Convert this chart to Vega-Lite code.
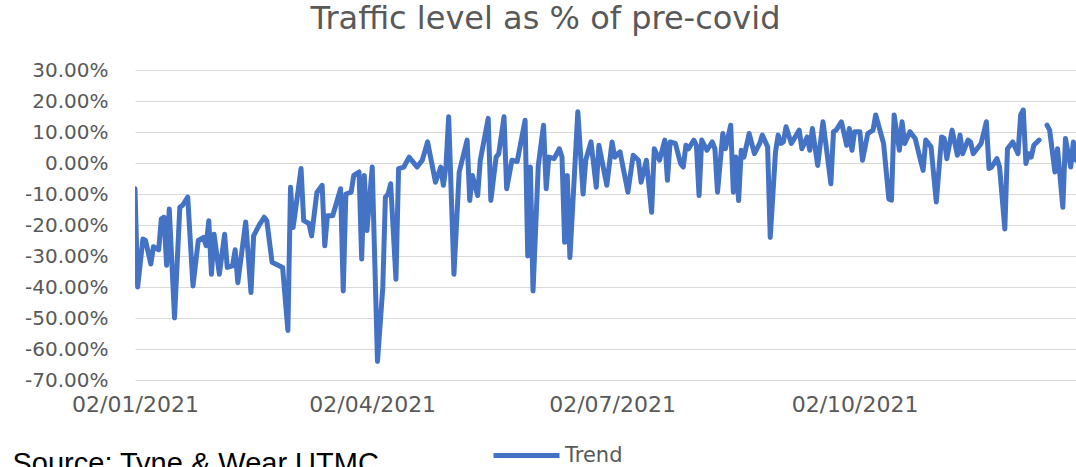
{
  "$schema": "https://vega.github.io/schema/vega-lite/v6.json",
  "width": 941,
  "height": 310,
  "autosize": {"type": "none"},
  "padding": {"left": 135, "top": 70, "right": 0, "bottom": 87},
  "background": "white",
  "title": {
    "text": "Traffic level as % of pre-covid",
    "font": "DejaVu Sans",
    "fontSize": 32,
    "fontWeight": "normal",
    "color": "#595959",
    "anchor": "middle",
    "frame": "group",
    "dx": -60,
    "baseline": "alphabetic",
    "offset": -1
  },
  "data": {
    "values": [
      {"date": "2021-01-02", "value": -8.3},
      {"date": "2021-01-03", "value": -40},
      {"date": "2021-01-05", "value": -24.5},
      {"date": "2021-01-06", "value": -25},
      {"date": "2021-01-08", "value": -32.6},
      {"date": "2021-01-09", "value": -27},
      {"date": "2021-01-11", "value": -28},
      {"date": "2021-01-12", "value": -18},
      {"date": "2021-01-13", "value": -17.5},
      {"date": "2021-01-14", "value": -33},
      {"date": "2021-01-15", "value": -14.8},
      {"date": "2021-01-17", "value": -50},
      {"date": "2021-01-19", "value": -14.3},
      {"date": "2021-01-20", "value": -13.7},
      {"date": "2021-01-22", "value": -11},
      {"date": "2021-01-24", "value": -39.7},
      {"date": "2021-01-26", "value": -25},
      {"date": "2021-01-28", "value": -24},
      {"date": "2021-01-29", "value": -26.7},
      {"date": "2021-01-30", "value": -18.6},
      {"date": "2021-01-31", "value": -35.9},
      {"date": "2021-02-01", "value": -23},
      {"date": "2021-02-03", "value": -35.9},
      {"date": "2021-02-05", "value": -23},
      {"date": "2021-02-06", "value": -33.7},
      {"date": "2021-02-08", "value": -33.2},
      {"date": "2021-02-09", "value": -28},
      {"date": "2021-02-10", "value": -38.6},
      {"date": "2021-02-13", "value": -19},
      {"date": "2021-02-15", "value": -41.8},
      {"date": "2021-02-16", "value": -23.5},
      {"date": "2021-02-18", "value": -20.2},
      {"date": "2021-02-20", "value": -17.5},
      {"date": "2021-02-21", "value": -18.6},
      {"date": "2021-02-23", "value": -32},
      {"date": "2021-02-27", "value": -33.7},
      {"date": "2021-03-01", "value": -54},
      {"date": "2021-03-02", "value": -7.8},
      {"date": "2021-03-03", "value": -20.8},
      {"date": "2021-03-06", "value": -1.8},
      {"date": "2021-03-07", "value": -18.6},
      {"date": "2021-03-09", "value": -19.5},
      {"date": "2021-03-10", "value": -23.5},
      {"date": "2021-03-12", "value": -9.5},
      {"date": "2021-03-14", "value": -7.2},
      {"date": "2021-03-15", "value": -26.7},
      {"date": "2021-03-16", "value": -17},
      {"date": "2021-03-18", "value": -17},
      {"date": "2021-03-21", "value": -8.3},
      {"date": "2021-03-22", "value": -41.3},
      {"date": "2021-03-23", "value": -10},
      {"date": "2021-03-25", "value": -9.4},
      {"date": "2021-03-26", "value": -4},
      {"date": "2021-03-28", "value": -2.9},
      {"date": "2021-03-29", "value": -31},
      {"date": "2021-03-30", "value": -4},
      {"date": "2021-03-31", "value": -21.8},
      {"date": "2021-04-02", "value": -1.3},
      {"date": "2021-04-04", "value": -64},
      {"date": "2021-04-06", "value": -40.3},
      {"date": "2021-04-07", "value": -11},
      {"date": "2021-04-08", "value": -10},
      {"date": "2021-04-09", "value": -6.7},
      {"date": "2021-04-11", "value": -37.5},
      {"date": "2021-04-12", "value": -1.8},
      {"date": "2021-04-14", "value": -1.3},
      {"date": "2021-04-16", "value": 1.9},
      {"date": "2021-04-19", "value": -1.3},
      {"date": "2021-04-21", "value": 0.9},
      {"date": "2021-04-23", "value": 6.8},
      {"date": "2021-04-26", "value": -6.2},
      {"date": "2021-04-28", "value": -1.3},
      {"date": "2021-04-29", "value": -7.2},
      {"date": "2021-04-30", "value": -0.8},
      {"date": "2021-05-01", "value": 14.9},
      {"date": "2021-05-03", "value": -35.9},
      {"date": "2021-05-05", "value": -2.9},
      {"date": "2021-05-08", "value": 7.4},
      {"date": "2021-05-09", "value": -12.1},
      {"date": "2021-05-10", "value": -4},
      {"date": "2021-05-12", "value": -10.5},
      {"date": "2021-05-13", "value": 0.9},
      {"date": "2021-05-16", "value": 14.4},
      {"date": "2021-05-17", "value": -12.1},
      {"date": "2021-05-19", "value": 1.9},
      {"date": "2021-05-20", "value": 3},
      {"date": "2021-05-22", "value": 14.9},
      {"date": "2021-05-23", "value": -8.3},
      {"date": "2021-05-25", "value": 0.9},
      {"date": "2021-05-27", "value": 0.5},
      {"date": "2021-05-30", "value": 13.8},
      {"date": "2021-05-31", "value": -30},
      {"date": "2021-06-01", "value": -1.3},
      {"date": "2021-06-02", "value": -41.3},
      {"date": "2021-06-04", "value": -0.8},
      {"date": "2021-06-06", "value": 12.2},
      {"date": "2021-06-07", "value": -8.3},
      {"date": "2021-06-08", "value": 1.9},
      {"date": "2021-06-10", "value": 1.4},
      {"date": "2021-06-12", "value": 4.6},
      {"date": "2021-06-13", "value": 1.9},
      {"date": "2021-06-14", "value": -25.6},
      {"date": "2021-06-15", "value": -4},
      {"date": "2021-06-16", "value": -30.5},
      {"date": "2021-06-19", "value": 16.5},
      {"date": "2021-06-21", "value": -10},
      {"date": "2021-06-22", "value": 0.9},
      {"date": "2021-06-24", "value": 6.8},
      {"date": "2021-06-26", "value": -7.8},
      {"date": "2021-06-27", "value": 5.7},
      {"date": "2021-06-30", "value": -7.2},
      {"date": "2021-07-02", "value": 6.8},
      {"date": "2021-07-03", "value": 1.9},
      {"date": "2021-07-05", "value": 3.6},
      {"date": "2021-07-08", "value": -9.4},
      {"date": "2021-07-10", "value": 2.5},
      {"date": "2021-07-12", "value": 0.9},
      {"date": "2021-07-13", "value": -6.2},
      {"date": "2021-07-15", "value": 0.9},
      {"date": "2021-07-17", "value": -15.9},
      {"date": "2021-07-18", "value": 4.6},
      {"date": "2021-07-20", "value": 0.9},
      {"date": "2021-07-22", "value": 7.4},
      {"date": "2021-07-23", "value": -5.6},
      {"date": "2021-07-24", "value": 6.8},
      {"date": "2021-07-26", "value": 6.3},
      {"date": "2021-07-28", "value": -0.2},
      {"date": "2021-07-29", "value": -1.3},
      {"date": "2021-07-30", "value": 5.7},
      {"date": "2021-07-31", "value": 4.6},
      {"date": "2021-08-02", "value": 7.4},
      {"date": "2021-08-03", "value": 5.7},
      {"date": "2021-08-04", "value": -10.5},
      {"date": "2021-08-05", "value": 7.4},
      {"date": "2021-08-07", "value": 4.1},
      {"date": "2021-08-09", "value": 6.8},
      {"date": "2021-08-10", "value": 4.6},
      {"date": "2021-08-11", "value": -9.4},
      {"date": "2021-08-13", "value": 9.5},
      {"date": "2021-08-14", "value": 4.6},
      {"date": "2021-08-16", "value": 12.2},
      {"date": "2021-08-17", "value": -9.4},
      {"date": "2021-08-18", "value": 1.9},
      {"date": "2021-08-19", "value": -12.1},
      {"date": "2021-08-20", "value": 4.1},
      {"date": "2021-08-21", "value": 1.9},
      {"date": "2021-08-23", "value": 9.5},
      {"date": "2021-08-25", "value": 3},
      {"date": "2021-08-27", "value": 6.3},
      {"date": "2021-08-28", "value": 9},
      {"date": "2021-08-30", "value": 5.2},
      {"date": "2021-08-31", "value": -24},
      {"date": "2021-09-02", "value": 3.6},
      {"date": "2021-09-03", "value": 9},
      {"date": "2021-09-04", "value": 6.3},
      {"date": "2021-09-05", "value": 6.8},
      {"date": "2021-09-06", "value": 11.7},
      {"date": "2021-09-08", "value": 6.3},
      {"date": "2021-09-11", "value": 10.6},
      {"date": "2021-09-12", "value": 4.6},
      {"date": "2021-09-14", "value": 8.4},
      {"date": "2021-09-15", "value": 4.1},
      {"date": "2021-09-16", "value": 11.1},
      {"date": "2021-09-18", "value": -0.8},
      {"date": "2021-09-20", "value": 13.3},
      {"date": "2021-09-21", "value": 6.8},
      {"date": "2021-09-23", "value": -6.7},
      {"date": "2021-09-24", "value": 10.1},
      {"date": "2021-09-25", "value": 10.6},
      {"date": "2021-09-27", "value": 13.3},
      {"date": "2021-09-29", "value": 5.7},
      {"date": "2021-09-30", "value": 11.1},
      {"date": "2021-10-01", "value": 4.1},
      {"date": "2021-10-02", "value": 10.1},
      {"date": "2021-10-04", "value": 10.1},
      {"date": "2021-10-05", "value": 0.9},
      {"date": "2021-10-07", "value": 9.5},
      {"date": "2021-10-09", "value": 10.6},
      {"date": "2021-10-10", "value": 15.5},
      {"date": "2021-10-13", "value": 6.3},
      {"date": "2021-10-15", "value": -11.6},
      {"date": "2021-10-16", "value": -12},
      {"date": "2021-10-17", "value": 15.5},
      {"date": "2021-10-19", "value": 4.1},
      {"date": "2021-10-20", "value": 13.3},
      {"date": "2021-10-21", "value": 6.3},
      {"date": "2021-10-23", "value": 10.1},
      {"date": "2021-10-25", "value": 7.9},
      {"date": "2021-10-27", "value": 0.9},
      {"date": "2021-10-28", "value": -2.4},
      {"date": "2021-10-29", "value": 7.4},
      {"date": "2021-10-31", "value": 5.2},
      {"date": "2021-11-02", "value": -12.6},
      {"date": "2021-11-04", "value": 8.4},
      {"date": "2021-11-05", "value": 7.9},
      {"date": "2021-11-06", "value": 1.4},
      {"date": "2021-11-08", "value": 10.6},
      {"date": "2021-11-10", "value": 2.5},
      {"date": "2021-11-11", "value": 9},
      {"date": "2021-11-12", "value": 3},
      {"date": "2021-11-14", "value": 7.4},
      {"date": "2021-11-15", "value": 6.8},
      {"date": "2021-11-16", "value": 3},
      {"date": "2021-11-19", "value": 6.3},
      {"date": "2021-11-21", "value": 13.3},
      {"date": "2021-11-22", "value": -1.8},
      {"date": "2021-11-23", "value": -1.3},
      {"date": "2021-11-25", "value": 1.4},
      {"date": "2021-11-26", "value": -1.3},
      {"date": "2021-11-28", "value": -21.3},
      {"date": "2021-11-29", "value": 4.6},
      {"date": "2021-12-01", "value": 6.8},
      {"date": "2021-12-03", "value": 3},
      {"date": "2021-12-04", "value": 15.5},
      {"date": "2021-12-05", "value": 17.1},
      {"date": "2021-12-06", "value": -0.2},
      {"date": "2021-12-07", "value": 3},
      {"date": "2021-12-08", "value": 1.9},
      {"date": "2021-12-09", "value": 5.7},
      {"date": "2021-12-11", "value": 7.4},
      {"date": "2021-12-12", "value": null},
      {"date": "2021-12-14", "value": 12.2},
      {"date": "2021-12-15", "value": 10.6},
      {"date": "2021-12-17", "value": -2.9},
      {"date": "2021-12-18", "value": 4.6},
      {"date": "2021-12-20", "value": -14.3},
      {"date": "2021-12-21", "value": 7.9},
      {"date": "2021-12-23", "value": -1.3},
      {"date": "2021-12-24", "value": 6.8},
      {"date": "2021-12-25", "value": 0.9}
    ]
  },
  "mark": {
    "type": "line",
    "strokeWidth": 5,
    "strokeJoin": "round",
    "strokeCap": "round",
    "clip": true,
    "invalid": "break-paths-show-domains"
  },
  "encoding": {
    "x": {
      "field": "date",
      "type": "temporal",
      "scale": {
        "type": "utc",
        "domain": [
          {"year": 2021, "month": 1, "date": 2, "utc": true},
          {"year": 2021, "month": 12, "date": 25, "utc": true}
        ]
      },
      "axis": {
        "values": [
          {"year": 2021, "month": 1, "date": 2, "utc": true},
          {"year": 2021, "month": 4, "date": 2, "utc": true},
          {"year": 2021, "month": 7, "date": 2, "utc": true},
          {"year": 2021, "month": 10, "date": 2, "utc": true}
        ],
        "labelExpr": "utcFormat(datum.value, '%d/%m/%Y')",
        "grid": false,
        "domain": false,
        "ticks": false,
        "labelFont": "DejaVu Sans",
        "labelFontSize": 22,
        "labelColor": "#595959",
        "labelPadding": 14,
        "labelBaseline": "top",
        "labelOverlap": false,
        "labelFlush": false,
        "title": "Source: Tyne & Wear UTMC",
        "titleFont": "Liberation Sans",
        "titleFontSize": 29,
        "titleFontWeight": "normal",
        "titleColor": "#000000",
        "titleAnchor": "start",
        "titleAlign": "left",
        "titleBaseline": "alphabetic",
        "titleX": -123,
        "titleY": 92
      }
    },
    "y": {
      "field": "value",
      "type": "quantitative",
      "scale": {"domain": [-70, 30], "nice": false, "zero": false},
      "axis": {
        "values": [-70, -60, -50, -40, -30, -20, -10, 0, 10, 20, 30],
        "labelExpr": "replace(format(datum.value, '.2f'), '\u2212', '-') + '%'",
        "grid": true,
        "gridColor": "#d9d9d9",
        "gridWidth": 1.2,
        "domain": false,
        "ticks": false,
        "labelFont": "DejaVu Sans",
        "labelFontSize": 20,
        "labelColor": "#595959",
        "labelPadding": 27,
        "title": null
      }
    },
    "color": {
      "datum": "Trend",
      "scale": {"range": ["#4472C4"]},
      "legend": {
        "orient": "none",
        "legendX": 356,
        "legendY": 350,
        "title": null,
        "symbolType": "stroke",
        "symbolSize": 4356,
        "symbolStrokeWidth": 5,
        "labelFont": "DejaVu Sans",
        "labelFontSize": 21,
        "labelColor": "#595959",
        "labelOffset": 3,
        "padding": 0
      }
    }
  },
  "config": {
    "view": {"stroke": null},
    "locale": {
      "number": {"decimal": ".", "thousands": ",", "grouping": [3], "currency": ["$", ""], "minus": "-"}
    }
  }
}
